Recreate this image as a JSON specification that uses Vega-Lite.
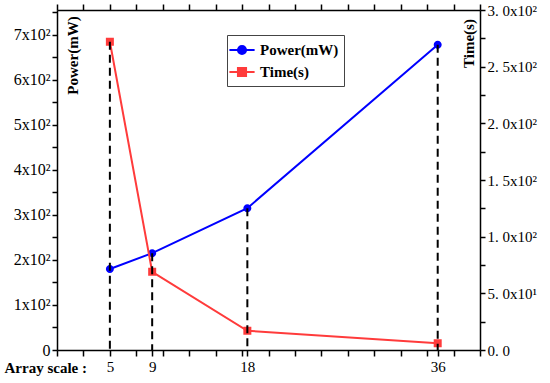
{
  "$schema": "https://vega.github.io/schema/vega-lite/v6.json",
  "width": 423,
  "height": 340,
  "autosize": "none",
  "padding": {"left": 57, "top": 10, "right": 70, "bottom": 33},
  "background": "white",
  "config": {
    "view": {"stroke": null},
    "axis": {
      "grid": false,
      "domainColor": "black",
      "tickColor": "black",
      "domainWidth": 1.5,
      "tickWidth": 1.5,
      "labelFont": "Liberation Serif",
      "labelColor": "black",
      "labelFlush": false,
      "labelBound": false,
      "labelOverlap": false,
      "titleFont": "Liberation Serif",
      "titleFontWeight": "bold",
      "titleColor": "black",
      "titleFontSize": 15
    }
  },
  "data": {
    "values": [
      {"scale": 5, "power": 180, "time": 272},
      {"scale": 9, "power": 215, "time": 69},
      {"scale": 18, "power": 315, "time": 17},
      {"scale": 36, "power": 678, "time": 6}
    ]
  },
  "layer": [
    {
      "encoding": {
        "x": {
          "field": "scale",
          "type": "quantitative",
          "scale": {"domain": [0, 40], "nice": false},
          "axis": {
            "orient": "bottom",
            "values": [0, 2.5, 5, 7.5, 9, 10, 12.5, 15, 17.5, 18, 20, 22.5, 25, 27.5, 30, 32.5, 35, 36, 37.5, 40],
            "labelExpr": "indexof([5, 9, 18, 36], datum.value) >= 0 ? toString(datum.value) : ''",
            "labelFontSize": 15,
            "tickSize": 6,
            "labelPadding": 3,
            "title": "Array scale :",
            "titleX": -53,
            "titleY": 17,
            "titleAlign": "left",
            "titleBaseline": "middle",
            "encode": {
              "ticks": {
                "y2": {
                  "condition": [
                    {"test": "indexof([9, 18, 36], datum.value) >= 0", "value": 0},
                    {"test": "datum.value % 5 == 0", "value": 6}
                  ],
                  "value": 3
                }
              }
            }
          }
        },
        "y": {
          "field": "power",
          "type": "quantitative",
          "scale": {"domain": [0, 755], "nice": false},
          "axis": {
            "orient": "left",
            "values": [0, 50, 100, 150, 200, 250, 300, 350, 400, 450, 500, 550, 600, 650, 700, 750],
            "labelExpr": "datum.value % 100 == 0 ? (datum.value == 0 ? '0' : (datum.value / 100) + 'x10²') : ''",
            "labelFontSize": 16,
            "tickSize": 5,
            "labelPadding": 2,
            "title": "Power(mW)",
            "titleAngle": -90,
            "titleX": 15,
            "titleY": 45,
            "titleAlign": "center",
            "titleBaseline": "middle",
            "encode": {
              "ticks": {
                "x2": {"condition": {"test": "datum.value % 100 == 0", "value": -5}, "value": -3}
              }
            }
          }
        }
      },
      "layer": [
        {
          "mark": {"type": "point", "filled": false, "size": 316, "opacity": 1, "strokeWidth": 0},
          "encoding": {
            "color": {
              "datum": "Power(mW)",
              "type": "nominal",
              "scale": {"domain": ["Power(mW)", "Time(s)"], "range": ["#0000ff", "#ff3b3b"]},
              "legend": {
                "orient": "none",
                "legendX": 170,
                "legendY": 25,
                "title": null,
                "strokeColor": "#444444",
                "fillColor": "white",
                "padding": 5,
                "labelFont": "Liberation Serif",
                "labelFontWeight": "bold",
                "labelFontSize": 15,
                "labelColor": "black",
                "symbolSize": 324,
                "symbolStrokeWidth": 2,
                "rowPadding": 3,
                "labelOffset": 8
              }
            },
            "fill": {
              "datum": "Power(mW)",
              "type": "nominal",
              "scale": {"domain": ["Power(mW)", "Time(s)"], "range": ["#0000ff", "#ff3b3b"]}
            },
            "shape": {
              "datum": "Power(mW)",
              "type": "nominal",
              "scale": {
                "domain": ["Power(mW)", "Time(s)"],
                "range": [
                  "M-1.4,0H1.4M-0.45,0A0.45,0.45 0 1,1 0.45,0A0.45,0.45 0 1,1 -0.45,0Z",
                  "M-1.4,0H1.4M-0.45,-0.45H0.45V0.45H-0.45Z"
                ]
              }
            }
          }
        },
        {
          "mark": {"type": "line", "strokeWidth": 2},
          "encoding": {"color": {"datum": "Power(mW)", "type": "nominal"}}
        }
      ]
    },
    {
      "encoding": {
        "x": {
          "field": "scale",
          "type": "quantitative",
          "scale": {"domain": [0, 40], "nice": false},
          "axis": {
            "orient": "top",
            "values": [0, 2.5, 5, 7.5, 10, 12.5, 15, 17.5, 20, 22.5, 25, 27.5, 30, 32.5, 35, 37.5, 40],
            "labels": false,
            "title": null,
            "tickSize": 6,
            "encode": {
              "ticks": {
                "y2": {"condition": {"test": "datum.value % 5 == 0", "value": 6}, "value": 3}
              }
            }
          }
        },
        "y": {
          "field": "time",
          "type": "quantitative",
          "scale": {"domain": [0, 300], "nice": false},
          "axis": {
            "orient": "right",
            "values": [0, 25, 50, 75, 100, 125, 150, 175, 200, 225, 250, 275, 300],
            "labelExpr": "datum.value == 0 ? '0. 0' : (datum.value == 50 ? '5. 0x10¹' : (datum.value % 50 == 0 ? replace(format(datum.value / 100, '.1f'), '.', '. ') + 'x10²' : ''))",
            "labelFontSize": 15,
            "tickSize": 5,
            "labelPadding": 2,
            "title": "Time(s)",
            "titleAngle": -90,
            "titleX": -12,
            "titleY": 33,
            "titleAlign": "center",
            "titleBaseline": "middle",
            "encode": {
              "ticks": {
                "x2": {"condition": {"test": "datum.value % 50 == 0", "value": 5}, "value": 3}
              }
            }
          }
        }
      },
      "layer": [
        {
          "mark": {"type": "point", "filled": false, "size": 316, "opacity": 1, "strokeWidth": 0},
          "encoding": {
            "color": {"datum": "Time(s)", "type": "nominal"},
            "fill": {"datum": "Time(s)", "type": "nominal"},
            "shape": {"datum": "Time(s)", "type": "nominal"}
          }
        },
        {
          "mark": {"type": "line", "strokeWidth": 2},
          "encoding": {"color": {"datum": "Time(s)", "type": "nominal"}}
        }
      ]
    },
    {
      "transform": [{"filter": "datum.scale != 5"}],
      "mark": {"type": "rule", "strokeDash": [8, 5], "strokeWidth": 2, "color": "black"},
      "encoding": {
        "x": {"field": "scale", "type": "quantitative", "scale": {"domain": [0, 40], "nice": false}, "axis": null},
        "y": {"field": "power", "type": "quantitative", "scale": {"domain": [0, 755], "nice": false}, "axis": null},
        "y2": {"datum": 0}
      }
    },
    {
      "transform": [{"filter": "datum.scale == 5"}],
      "mark": {"type": "rule", "strokeDash": [8, 5], "strokeWidth": 2, "color": "black"},
      "encoding": {
        "x": {"field": "scale", "type": "quantitative", "scale": {"domain": [0, 40], "nice": false}, "axis": null},
        "y": {"field": "time", "type": "quantitative", "scale": {"domain": [0, 300], "nice": false}, "axis": null},
        "y2": {"datum": 0}
      }
    }
  ],
  "resolve": {"scale": {"y": "independent"}, "axis": {"x": "independent", "y": "independent"}}
}
